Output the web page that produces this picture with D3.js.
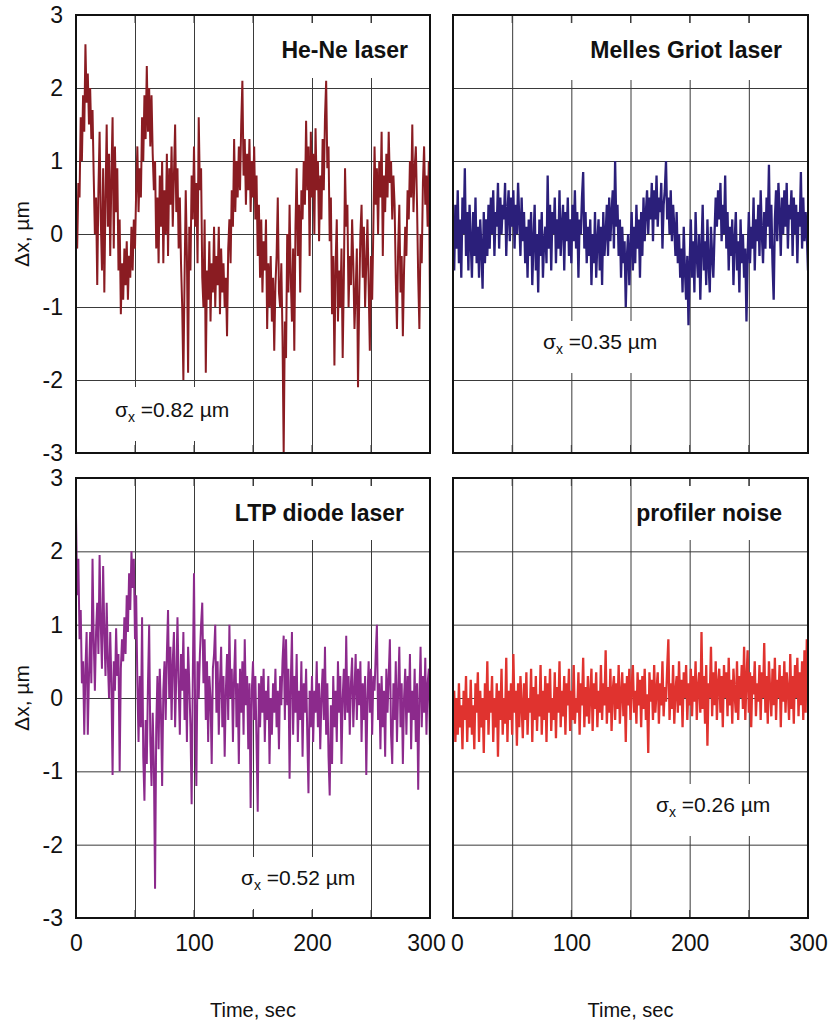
<!DOCTYPE html>
<html>
<head>
<meta charset="utf-8">
<script src="https://cdn.jsdelivr.net/npm/d3@7"></script>
<style>
  body { margin: 0; background: #fff; }
  text { font-family: "Liberation Sans", Arial, sans-serif; fill: #111; }
</style>
</head>
<body>
<div id="chart"></div>
<script>
// ---- data (1 sample per second, t = 0..300 s) ----
const sampleStep = 1;

const heNe = [
  0.0, -0.2, 0.7, 0.5, 1.6, 1.0, 1.9, 1.4, 2.6, 1.8,
  2.2, 1.5, 2.0, 1.3, 1.7, 0.8, 0.0, 0.5, -0.7, 0.6,
  1.4, 0.2, -0.5, 0.9, -0.8, 0.5, 1.5, 0.1, 1.1, -0.3,
  0.8, 1.6, -0.2, 1.2, 0.3, 0.9, -0.5, 0.2, -1.1, -0.4,
  -0.9, -0.2, -0.7, -0.1, -0.9, -0.3, -0.6, 0.1, -0.5, 0.2,
  -0.2, 0.6, 1.2, 0.3, 0.9, 0.5, 1.6, 1.0, 1.9, 1.3,
  2.3, 1.4, 2.0, 1.2, 1.9, 1.1, 0.6, 1.0, -0.2, 0.5,
  -0.4, 0.8, 0.1, 1.0, -0.4, 0.6, 0.0, 1.1, -0.3, 0.9,
  0.4, 1.2, 0.1, 0.8, 1.5, 0.3, 0.9, -0.2, 0.5, -0.4,
  -1.0, -2.0, -0.6, 0.6, -0.3, -1.9, 0.1, -0.5, 0.8, 0.2,
  1.2, 0.1, 0.7, -0.4, 1.6, 0.6, 0.9, -0.6, -1.0, 0.2,
  -1.9, -0.5, -0.9, -0.1, -1.2, -0.4, -0.8, 0.1, -1.0, -0.3,
  -0.7, 0.1, -1.1, -0.2, -0.8, -0.4, -1.0, -0.6, -1.4, -0.2,
  0.2, -0.4, 0.6, 0.1, 1.3, 0.3, 1.0, 0.5, 1.2, 0.6,
  1.5, 2.1, 0.8, 1.3, 0.4, 1.1, 0.6, 1.3, 0.3, 1.0,
  0.5, 1.2, 0.2, 0.8, -0.3, 0.4, -0.6, 0.2, -0.8, -0.1,
  -0.5, 0.2, -1.3, -0.4, -1.0, -0.3, -1.2, -0.6, -1.6, -0.7,
  -0.3, 0.5, -0.8, -1.0, -0.4, -1.4, -3.0, -1.2, -1.7, 0.0,
  -0.8, 0.4, -0.6, -1.2, -0.2, -1.6, 0.1, 0.9, -0.3, 0.4,
  -0.8, 0.6, 0.2, 1.0, 0.4, 1.55, 0.6, 1.2, -0.3, 1.4,
  0.5, 1.1, 0.0, 1.45, 0.6, 1.0, -0.1, 0.8, 0.2, 1.3,
  0.6, 1.6, 2.1, 0.9, 1.2, -0.1, 0.5, -1.1, -0.3, -1.8,
  -0.4, 0.2, -1.2, -0.5, -1.0, -0.2, -1.7, -0.6, 0.9, 0.1,
  0.4, -1.0, -0.3, -0.7, 0.2, -0.4, -1.3, -0.8, -0.2, -2.1,
  -0.9, 0.0, 0.4, -0.6, 0.1, -1.0, -0.4, 0.2, -0.7, -1.6,
  -0.3, -0.9, 0.1, 1.2, 0.4, 0.9, 0.0, 1.0, 0.5, 1.4,
  -0.3, 0.8, 0.3, 1.1, 0.5, 1.4, 0.7, 1.0, 0.2, 0.8,
  0.4, -0.6, -1.3, -0.2, 0.4, -0.8, -0.3, -1.4, -0.5, 0.1,
  -0.3, 0.6, 0.2, 1.0, 0.5, 1.5, 0.3, 0.9, 1.2, 0.4,
  -0.6, -1.3, 0.0, -0.4, 0.7, 1.2, 0.4, 0.8, 0.1, 1.0,
  -1.0
];

const mellesGriot = [
  0.1, -0.5, 0.4, -0.2, 0.6, -0.4, 0.2, -0.6, 0.5, 0.0,
  0.9, -0.3, 0.3, -0.5, 0.4, -0.1, -0.6, 0.3, -0.3, 0.5,
  -0.4, 0.1, -0.6, 0.2, -0.2, -0.75, 0.3, -0.4, 0.2, -0.3,
  0.4, -0.2, 0.5, 0.0, 0.6, -0.3, 0.3, 0.1, 0.7, -0.2,
  0.5, 0.0, 0.4, 0.2, 0.7, -0.3, 0.3, 0.6, -0.1, 0.5,
  0.1, 0.6, -0.2, 0.4, 0.0, 0.7, 0.2, -0.3, 0.5, -0.1,
  0.3, -0.4, 0.1, -0.6, 0.2, -0.3, 0.3, -0.7, -0.1, 0.4,
  -0.5, 0.0, -0.8, 0.2, -0.3, 0.3, -0.6, -0.1, 0.1, -0.4,
  0.8, -0.2, 0.4, -0.5, 0.3, 0.0, 0.5, -0.4, 0.2, -0.2,
  0.6, -0.3, 0.1, 0.4, -0.5, 0.3, -0.1, 0.5, -0.3, 0.2,
  -0.4, 0.4, -0.1, 0.6, -0.2, 0.3, -0.6, 0.2, 0.0, 0.5,
  0.85, -0.2, 0.3, -0.4, 0.1, -0.3, 0.2, -0.7, 0.0, -0.4,
  0.3, -0.6, -0.1, 0.2, -0.5, 0.1, -0.7, 0.3, -0.3, 0.0,
  0.4, -0.3, 0.5, -0.1, 0.3, 0.6, -0.2, 1.0, 0.1, 0.4,
  -0.3, 0.2, -0.6, 0.1, -0.4, -0.1, -1.0, -0.3, 0.0, -0.7,
  -0.2, 0.3, -0.5, 0.1, -0.4, 0.4, -0.2, 0.2, -0.6, 0.3,
  -0.3, 0.5, -0.1, 0.3, 0.6, 0.0, 0.5, 0.2, 0.7, -0.1,
  0.6, 0.2, 0.8, 0.1, 0.5, 0.3, 0.7, -0.2, 0.4, 0.6,
  1.0, 0.2, 0.5, 0.0, 0.6, -0.1, 0.4, 0.1, -0.3, 0.3,
  -0.4, 0.0, -0.6, -0.2, -0.8, 0.1, -0.5, -0.9, -0.3, -1.25,
  -0.4, 0.2, -0.6, -0.1, -0.8, 0.3, -0.3, -0.6, 0.0, -0.9,
  -0.2, 0.4, -0.5, -0.1, -0.7, 0.2, -0.4, -0.8, 0.1, -0.3,
  -0.6, 0.0, 0.5, 0.1, 0.6, 0.2, 0.7, -0.1, 0.4, 0.0,
  0.8, -0.2, 0.3, -0.5, 0.1, -0.3, 0.2, -0.7, -0.1, 0.3,
  -0.5, -0.1, -0.8, 0.2, -0.4, 0.0, -0.6, -0.2, -1.2, -0.3,
  0.3, -0.4, 0.1, -0.2, 0.5, -0.5, 0.2, -0.1, 0.4, -0.3,
  0.6, 0.0, -0.4, 0.3, -0.2, 0.5, 0.1, 0.95, -0.2, 0.4,
  -0.4, -0.9, 0.2, 0.6, -0.1, 0.7, 0.3, -0.3, 0.5, 0.0,
  0.6, 0.1, 0.7, -0.2, 0.4, 0.2, 0.6, -0.3, 0.5, 0.0,
  0.4, -0.4, 0.3, 0.1, 0.85, -0.2, 0.5, -0.1, 0.3, 0.0,
  -0.5
];

const ltpDiode = [
  2.5, 1.4, 1.9, 0.8, 1.2, 0.2, 0.5, -0.5, 0.4, 0.9,
  -0.5, 0.3, 0.9, 0.2, 1.9, 0.8, 0.1, 0.9, 1.3, 0.6,
  1.95, 1.0, 0.4, 1.8, 0.9, 0.3, 1.3, 0.5, 0.0, 0.9,
  0.2, -1.05, 0.5, 0.1, 0.95, 0.3, 0.6, -1.0, 0.4, 0.8,
  0.5, 1.1, 0.6, 1.4, 0.9, 1.7, 1.2, 2.0, 1.5, 1.9,
  0.8, 1.4, 0.2, -0.6, 0.3, -0.4, 1.1, -0.8, -1.4, -0.3,
  -0.9, 0.2, 1.0, -0.6, -1.2, -0.2, -0.9, -2.6, -0.4, 0.3,
  -0.7, 0.4, -0.2, -1.2, 0.1, 0.5, -0.3, 0.6, 1.2, 0.0,
  0.7, -0.3, 0.5, 0.9, -0.4, 0.3, 1.1, 0.2, -0.5, 0.6,
  0.1, 0.9, -0.3, 0.4, -0.6, 0.7, 0.2, -0.4, -1.45, 0.3,
  1.7, -0.2, -1.2, 0.5, 0.0, 0.6, 1.0, 1.3, 0.2, 0.8,
  -0.3, 0.5, -0.6, 0.3, 0.0, -0.9, 0.4, 0.6, 1.0, -0.2,
  0.5, -0.5, 0.2, 0.7, -0.4, 0.3, -0.8, 0.1, 0.6, -0.3,
  1.0, 0.0, 0.4, -0.6, 0.3, 0.8, -0.4, 0.2, -0.9, 0.4,
  -0.2, 0.5, -0.5, 0.8, -0.1, 0.3, -0.7, 0.2, -1.5, 0.1,
  0.5, -0.3, 0.3, -0.6, -1.55, 0.2, -0.4, 0.3, -0.2, 0.4,
  -0.6, 0.1, -0.3, 0.3, -0.9, 0.0, -0.5, 0.2, -0.2, 0.4,
  -0.4, 0.1, -0.7, 0.3, -0.1, 0.5, 0.85, -0.3, 0.8, -0.1,
  0.4, -1.1, 0.2, 0.9, -0.5, 0.3, -0.2, 0.6, -0.6, 0.1,
  -0.3, 0.5, -0.8, 0.2, -0.2, 0.4, -0.5, -1.3, 0.1, -0.4,
  0.3, -0.6, 0.1, -0.2, 0.5, -0.4, 0.2, -0.7, 0.0, 0.4,
  -0.3, 0.7, -0.5, 0.2, -0.8, -1.33, -0.1, -0.9, 0.3, -0.4,
  0.1, -0.6, 0.5, -0.2, 0.3, -0.9, 0.0, 0.4, -0.3, 0.85,
  -0.2, 0.3, -0.5, 0.2, 0.55, -0.4, 0.1, 0.6, -0.3, 0.4,
  -0.1, 0.5, -0.6, 0.2, -0.3, 0.3, -1.05, 0.0, 0.5, -0.2,
  0.4, -0.5, 0.3, 0.1, 0.6, 1.0, -0.3, 0.2, -0.7, 0.3,
  -0.4, 0.1, -0.8, 0.4, -0.2, 0.3, 0.8, -0.5, -0.9, 0.2,
  -0.3, 0.5, -0.6, 0.1, 0.7, -0.4, 0.2, -0.9, 0.0, 0.4,
  -0.5, 0.3, -0.2, 0.6, -0.7, 0.1, -0.3, 0.4, -0.6, 0.2,
  -1.25, 0.0, 0.7, -0.4, 0.3, -0.2, 0.55, -0.5, 0.2, 0.4,
  -0.65
];

const profilerNoise = [
  -0.3, 0.1, -0.6, 0.0, -0.5, 0.2, -0.4, -0.1, -0.7, 0.1,
  -0.3, 0.3, -0.6, 0.0, -0.4, 0.25, -0.5, -0.1, -0.7, 0.2,
  -0.2, 0.35, -0.6, 0.1, -0.4, 0.0, -0.75, 0.2, -0.3, 0.5,
  -0.5, 0.1, -0.2, 0.3, -0.6, 0.0, -0.4, 0.2, -0.8, 0.1,
  -0.3, 0.4, -0.5, 0.0, -0.35, 0.55, -0.6, 0.1, -0.3, 0.2,
  -0.5, 0.6, -0.2, 0.1, -0.65, 0.2, -0.4, 0.3, -0.1, -0.55,
  0.2, -0.3, 0.35, -0.5, 0.0, -0.2, 0.4, -0.6, 0.15, -0.3,
  0.3, -0.45, 0.05, -0.25, 0.45, -0.5, 0.1, -0.3, 0.3, -0.6,
  0.2, -0.2, 0.4, -0.45, 0.0, -0.3, 0.35, -0.55, 0.15, -0.2,
  0.5, -0.4, 0.1, -0.25, 0.3, -0.5, 0.2, -0.1, 0.4, -0.45,
  0.1, -0.3, 0.45, -0.35, 0.0, -0.2, 0.35, -0.5, 0.2, -0.1,
  0.55, -0.4, 0.15, -0.25, 0.3, -0.35, 0.05, 0.4, -0.45, 0.2,
  -0.15, 0.35, -0.4, 0.1, -0.2, 0.45, -0.3, 0.2, -0.1, 0.65,
  -0.35, 0.15, -0.2, 0.4, -0.45, 0.1, 0.3, -0.3, 0.2, -0.15,
  0.45, -0.35, 0.05, 0.35, -0.25, 0.2, -0.6, 0.3, -0.1, 0.4,
  -0.3, 0.15, 0.45, -0.2, 0.1, -0.35, 0.35, -0.1, 0.25, -0.4,
  0.3, -0.15, 0.4, -0.3, 0.05, -0.75, 0.35, -0.05, 0.25, -0.3,
  0.45, -0.2, 0.1, 0.35, -0.35, 0.2, -0.1, 0.5, -0.25, 0.15,
  -0.05, 0.4, 0.8, -0.3, 0.2, -0.15, 0.45, -0.35, 0.1, 0.3,
  -0.2, 0.5, -0.1, 0.25, -0.4, 0.35, 0.0, 0.45, -0.3, 0.2,
  -0.1, 0.4, -0.25, 0.3, -0.05, 0.5, -0.3, 0.15, 0.35, -0.2,
  0.9, -0.15, 0.3, -0.35, 0.45, -0.65, 0.2, 0.0, 0.7, -0.25,
  0.35, -0.1, 0.5, -0.3, 0.2, 0.4, -0.2, 0.3, -0.4, 0.45,
  0.0, 0.35, -0.25, 0.55, -0.1, 0.25, -0.35, 0.4, 0.05, -0.2,
  0.5, -0.3, 0.3, 0.0, 0.45, -0.15, 0.7, -0.3, 0.25, 0.65,
  -0.2, 0.35, -0.4, 0.3, 0.05, 0.5, -0.25, 0.2, -0.05, 0.45,
  -0.3, 0.35, 0.0, 0.75, -0.2, 0.3, -0.35, 0.5, 0.1, -0.25,
  0.4, -0.1, 0.55, -0.3, 0.25, 0.0, 0.45, -0.4, 0.3, -0.05,
  0.5, -0.2, 0.35, 0.1, -0.3, 0.6, -0.15, 0.3, -0.35, 0.45,
  0.0, 0.55, -0.25, 0.35, -0.1, 0.5, -0.3, 0.65, -0.2, 0.8,
  0.1
];

const panelTitles = ["He-Ne laser", "Melles Griot laser", "LTP diode laser", "profiler noise"];
const sigmaValues = ["0.82", "0.35", "0.52", "0.26"];
const xTickLabels = [0, 100, 200, 300];
const yTickLabels = [3, 2, 1, 0, -1, -2, -3];
const xGridValues = [0, 50, 100, 150, 200, 250, 300];

// ---- layout ----
const width = 830, height = 1026;
const colX = [[76, 430], [453, 808]];
const rowY = [[15, 453], [478, 918]];

const panels = [
  { series: heNe, color: "#8a1c22", width: 2.0, col: 0, row: 0, title: panelTitles[0], sigma: sigmaValues[0],
    titleBox: [264, 23, 152, 55], sigmaAt: [115, 417], sigmaBox: [105, 387, 138, 54] },
  { series: mellesGriot, color: "#2b1f7a", width: 2.3, col: 1, row: 0, title: panelTitles[1], sigma: sigmaValues[1],
    titleBox: [566, 23, 224, 57], sigmaAt: [543, 349], sigmaBox: [533, 321, 134, 52] },
  { series: ltpDiode, color: "#8c2a8c", width: 2.0, col: 0, row: 1, title: panelTitles[2], sigma: sigmaValues[2],
    titleBox: [214, 486, 198, 54], sigmaAt: [241, 885], sigmaBox: [231, 857, 134, 52] },
  { series: profilerNoise, color: "#e0332f", width: 2.3, col: 1, row: 1, title: panelTitles[3], sigma: sigmaValues[3],
    titleBox: [634, 486, 156, 54], sigmaAt: [656, 812], sigmaBox: [646, 784, 134, 52] }
];

const svg = d3.select("#chart").append("svg")
  .attr("width", width)
  .attr("height", height);

const plainFormat = d => String(d);   // hyphen minus as in the original

panels.forEach((p, i) => {
  const [x0, x1] = colX[p.col];
  const [y0, y1] = rowY[p.row];

  const x = d3.scaleLinear().domain([0, 300]).range([x0, x1]);
  const y = d3.scaleLinear().domain([-3, 3]).range([y1, y0]);

  const g = svg.append("g").attr("class", "panel");

  g.append("clipPath").attr("id", "clip" + i)
    .append("rect")
      .attr("x", x0).attr("y", y0)
      .attr("width", x1 - x0).attr("height", y1 - y0);

  // grid
  g.append("g")
    .attr("transform", `translate(0, ${y1})`)
    .call(d3.axisBottom(x).tickValues(xGridValues).tickSize(-(y1 - y0)).tickFormat(""))
    .call(a => a.select(".domain").remove())
    .selectAll("line").attr("stroke", "#3a3a3a").attr("stroke-width", 1);

  g.append("g")
    .attr("transform", `translate(${x0}, 0)`)
    .call(d3.axisLeft(y).tickValues(yTickLabels).tickSize(-(x1 - x0)).tickFormat(""))
    .call(a => a.select(".domain").remove())
    .selectAll("line").attr("stroke", "#3a3a3a").attr("stroke-width", 1);

  // trace
  const line = d3.line()
    .x((d, k) => x(k * sampleStep))
    .y(d => y(d));

  g.append("path")
    .datum(p.series)
    .attr("clip-path", `url(#clip${i})`)
    .attr("fill", "none")
    .attr("stroke", p.color)
    .attr("stroke-width", p.width)
    .attr("stroke-linejoin", "bevel")
    .attr("d", line);

  // white boxes behind labels
  [p.titleBox, p.sigmaBox].forEach(b => {
    g.append("rect")
      .attr("x", b[0]).attr("y", b[1])
      .attr("width", b[2]).attr("height", b[3])
      .attr("fill", "#fff");
  });

  // short tick marks on the frame edges
  const tickLen = 8;
  xGridValues.forEach(v => {
    g.append("line").attr("x1", x(v)).attr("x2", x(v))
      .attr("y1", y0).attr("y2", y0 + tickLen).attr("stroke", "#3a3a3a");
    g.append("line").attr("x1", x(v)).attr("x2", x(v))
      .attr("y1", y1).attr("y2", y1 - tickLen).attr("stroke", "#3a3a3a");
  });

  // frame
  g.append("rect")
    .attr("x", x0).attr("y", y0)
    .attr("width", x1 - x0).attr("height", y1 - y0)
    .attr("fill", "none")
    .attr("stroke", "#111")
    .attr("stroke-width", 2);

  // title
  g.append("text")
    .attr("x", p.titleBox[0] + p.titleBox[2] - 8)
    .attr("y", p.titleBox[1] + 35)
    .attr("text-anchor", "end")
    .attr("font-size", 23)
    .attr("font-weight", "bold")
    .text(p.title);

  // sigma label
  const s = g.append("text")
    .attr("x", p.sigmaAt[0])
    .attr("y", p.sigmaAt[1])
    .attr("font-size", 21);
  s.append("tspan").text("σ");
  s.append("tspan").attr("font-size", 14).attr("dy", 5).text("x");
  s.append("tspan").attr("dy", -5).text(" =" + p.sigma + " µm");

  // y axis labels on left column
  if (p.col === 0) {
    g.append("g")
      .attr("transform", `translate(${x0 - 10}, 0)`)
      .call(d3.axisLeft(y).tickValues(yTickLabels).tickSize(0).tickFormat(plainFormat))
      .call(a => a.select(".domain").remove())
      .selectAll("text")
        .attr("font-size", 23)
        .attr("font-family", "Liberation Sans, Arial, sans-serif")
        .attr("fill", "#111");

    g.append("text")
      .attr("transform", `translate(29, ${(y0 + y1) / 2}) rotate(-90)`)
      .attr("text-anchor", "middle")
      .attr("font-size", 21)
      .text("Δx, µm");
  }

  // x axis labels on bottom row
  if (p.row === 1) {
    g.append("g")
      .attr("transform", `translate(0, ${y1 + 14})`)
      .call(d3.axisBottom(x).tickValues(xTickLabels).tickSize(0).tickFormat(plainFormat))
      .call(a => a.select(".domain").remove())
      .selectAll("text")
        .attr("font-size", 23)
        .attr("font-family", "Liberation Sans, Arial, sans-serif")
        .attr("fill", "#111")
        // "300" of the left panel and "0" of the right panel sit side by side
        .attr("dx", d => (p.col === 0 && d === 300) ? -4 : (p.col === 1 && d === 0) ? 4 : 0);

    g.append("text")
      .attr("x", (x0 + x1) / 2)
      .attr("y", 1017)
      .attr("text-anchor", "middle")
      .attr("font-size", 20)
      .text("Time, sec");
  }
});
</script>
</body>
</html>
